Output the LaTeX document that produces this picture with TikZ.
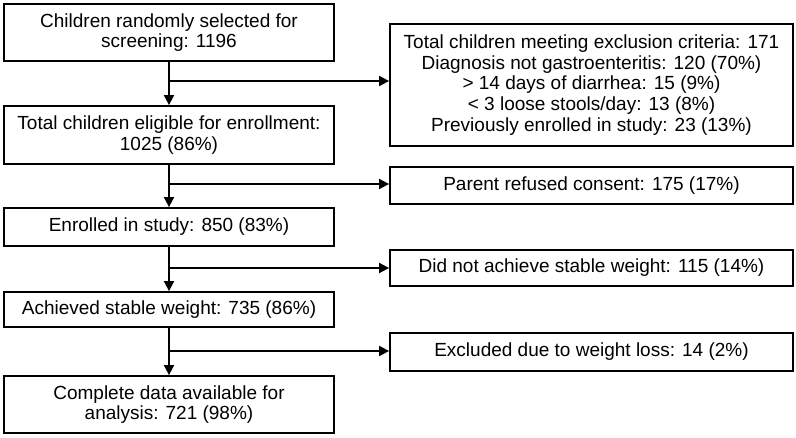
\documentclass[tikz,border=0pt]{standalone}
\usepackage{fontspec}
\setmainfont{Liberation Sans}
\usetikzlibrary{arrows.meta}
\begin{document}
\begin{tikzpicture}[x=1pt,y=1pt,
  box/.style={draw, line width=1.8pt, inner sep=0pt, align=center,
    font=\fontsize{19}{20.8}\selectfont},
  lbox/.style={box, minimum width=330pt},
  rbox/.style={box, minimum width=403pt},
  conn/.style={line width=1.8pt, -{Triangle[length=10pt,width=10pt]}}]
\useasboundingbox (0,0) rectangle (796,-438);
\node[lbox, minimum height=57pt] (b1) at (169,-32.5) {Children randomly selected for\\screening: 1196};
\node[lbox, minimum height=58pt] (b2) at (169,-135) {Total children eligible for enrollment:\\1025 (86\%)};
\node[lbox, minimum height=38pt] (b3) at (169,-227) {Enrolled in study: 850 (83\%)};
\node[lbox, minimum height=35pt] (b4) at (169,-309.5) {Achieved stable weight: 735 (86\%)};
\node[lbox, minimum height=57pt] (b5) at (169,-404.5) {Complete data available for\\analysis: 721 (98\%)};
\node[rbox, minimum height=122pt] (r1) at (591.5,-85) {Total children meeting exclusion criteria: 171\\Diagnosis not gastroenteritis: 120 (70\%)\\> 14 days of diarrhea: 15 (9\%)\\< 3 loose stools/day: 13 (8\%)\\Previously enrolled in study: 23 (13\%)};
\node[rbox, minimum height=37pt] (r2) at (591.5,-185.5) {Parent refused consent: 175 (17\%)};
\node[rbox, minimum height=36pt] (r3) at (591.5,-268) {Did not achieve stable weight: 115 (14\%)};
\node[rbox, minimum height=38pt] (r4) at (591.5,-352) {Excluded due to weight loss: 14 (2\%)};
\coordinate (j1) at (169,-81);
\coordinate (j2) at (169,-184);
\coordinate (j3) at (169,-268);
\coordinate (j4) at (169,-351);
\draw[conn] (b1.south) -- (b2.north);
\draw[conn] (b2.south) -- (b3.north);
\draw[conn] (b3.south) -- (b4.north);
\draw[conn] (b4.south) -- (b5.north);
\draw[conn] (j1) -- (r1.west |- j1);
\draw[conn] (j2) -- (r2.west |- j2);
\draw[conn] (j3) -- (r3.west |- j3);
\draw[conn] (j4) -- (r4.west |- j4);
\end{tikzpicture}
\end{document}
